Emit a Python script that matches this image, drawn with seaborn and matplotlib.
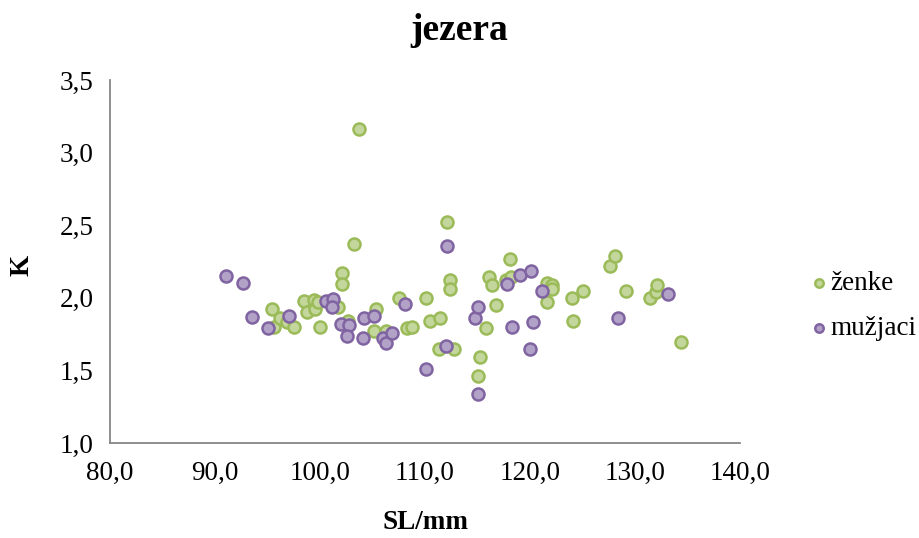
import pandas as pd
import seaborn as sns
import matplotlib.pyplot as plt
from matplotlib.ticker import FuncFormatter

# values
zenke_sl = [95.6, 95.4, 96.2, 96.9, 97.5, 98.5, 99.4, 98.8, 99.5, 100.0, 99.8,
            101.7, 102.1, 102.1, 103.2, 103.7, 102.7, 105.3, 105.1, 106.3,
            107.5, 108.3, 108.8, 110.1, 110.5, 111.4, 111.3, 112.1, 112.4,
            112.4, 112.8, 115.2, 115.0, 115.8, 116.1, 116.4, 116.8, 117.7,
            118.1, 118.2, 121.6, 122.1, 122.1, 121.6, 124.0, 124.1, 125.0,
            127.6, 128.1, 129.1, 131.4, 132.0, 132.1, 134.4]
zenke_k = [1.80, 1.92, 1.86, 1.83, 1.80, 1.98, 1.985, 1.90, 1.92, 1.80, 1.97,
           1.94, 2.17, 2.095, 2.37, 3.16, 1.84, 1.92, 1.77, 1.77,
           2.00, 1.79, 1.80, 2.00, 1.84, 1.86, 1.645, 2.52, 2.12,
           2.06, 1.65, 1.59, 1.46, 1.79, 2.14, 2.09, 1.95, 2.12,
           2.265, 2.14, 2.10, 2.09, 2.06, 1.97, 2.00, 1.84, 2.05,
           2.22, 2.29, 2.05, 2.00, 2.04, 2.09, 1.695]

muzjaci_sl = [91.0, 92.7, 93.5, 95.0, 97.0, 100.6, 101.2, 101.1, 102.0, 102.8,
              102.6, 104.1, 104.2, 105.1, 106.0, 106.3, 106.9, 108.1, 110.1,
              112.0, 112.1, 114.8, 115.0, 115.0, 117.8, 118.3, 119.0, 120.0,
              120.1, 120.3, 121.1, 128.4, 133.1]
muzjaci_k = [2.15, 2.10, 1.866, 1.79, 1.877, 1.978, 1.99, 1.94, 1.82, 1.81,
             1.74, 1.72, 1.86, 1.875, 1.72, 1.69, 1.76, 1.96, 1.51,
             1.67, 2.36, 1.86, 1.935, 1.34, 2.095, 1.80, 2.157, 1.647,
             2.185, 1.83, 2.045, 1.86, 2.026]

df = pd.DataFrame({
    "SL": zenke_sl + muzjaci_sl,
    "K": zenke_k + muzjaci_k,
    "spol": ["ženke"] * len(zenke_sl) + ["mužjaci"] * len(muzjaci_sl),
})

sns.set_style("white", {"text.color": "black", "axes.labelcolor": "black"})
plt.rcParams['font.family'] = ['Liberation Serif', 'DejaVu Serif']

fig = plt.figure(figsize=(9.19, 5.38), dpi=100)
ax = fig.add_axes([110 / 919, 95 / 538, 630 / 919, 363 / 538])

green_face, green_edge = "#c3d69b", "#9bbb59"
purple_face, purple_edge = "#b3a2c7", "#8064a2"

# ženke first, mužjaci drawn on top
sns.scatterplot(data=df[df.spol == "ženke"], x="SL", y="K", ax=ax, s=75,
                color=green_face, edgecolor=green_edge, linewidth=1.8,
                label="ženke", zorder=3)
sns.scatterplot(data=df[df.spol == "mužjaci"], x="SL", y="K", ax=ax, s=75,
                color=purple_face, edgecolor=purple_edge, linewidth=1.8,
                label="mužjaci", zorder=4)

ax.set_xlim(80, 140)
ax.set_ylim(1.0, 3.5)
ax.set_xticks([80, 90, 100, 110, 120, 130, 140])
ax.set_yticks([1.0, 1.5, 2.0, 2.5, 3.0, 3.5])
ax.xaxis.set_major_formatter(FuncFormatter(lambda v, p: f"{v:.1f}".replace(".", ",")))
ax.yaxis.set_major_formatter(FuncFormatter(lambda v, p: f"{v:.1f}".replace(".", ",")))

for s in ["top", "right"]:
    ax.spines[s].set_visible(False)
for s in ["left", "bottom"]:
    ax.spines[s].set_color("#868686")
    ax.spines[s].set_linewidth(1.3)
ax.tick_params(axis="both", direction="out", length=6, width=1.3, color="#868686",
               labelsize=19.5, labelcolor="black", pad=6)
ax.tick_params(axis="x", pad=7)

ax.set_xlabel("SL/mm", fontsize=19.5, fontweight="bold", color="black")
ax.set_ylabel("K", fontsize=19.5, fontweight="bold", color="black")
ax.xaxis.set_label_coords(0.5, -0.185)
ax.yaxis.set_label_coords(-0.12, 0.488)
fig.suptitle("jezera", fontsize=27, fontweight="bold", y=0.975, color="black")

leg = ax.legend(loc="center left", bbox_to_anchor=(1.088, 0.377), frameon=False,
                fontsize=19.5, handletextpad=0.05, labelspacing=0.75,
                markerscale=0.7, handlelength=0.75, borderpad=0)
for t in leg.get_texts():
    t.set_color("black")

fig.savefig("out.png", dpi=100)
